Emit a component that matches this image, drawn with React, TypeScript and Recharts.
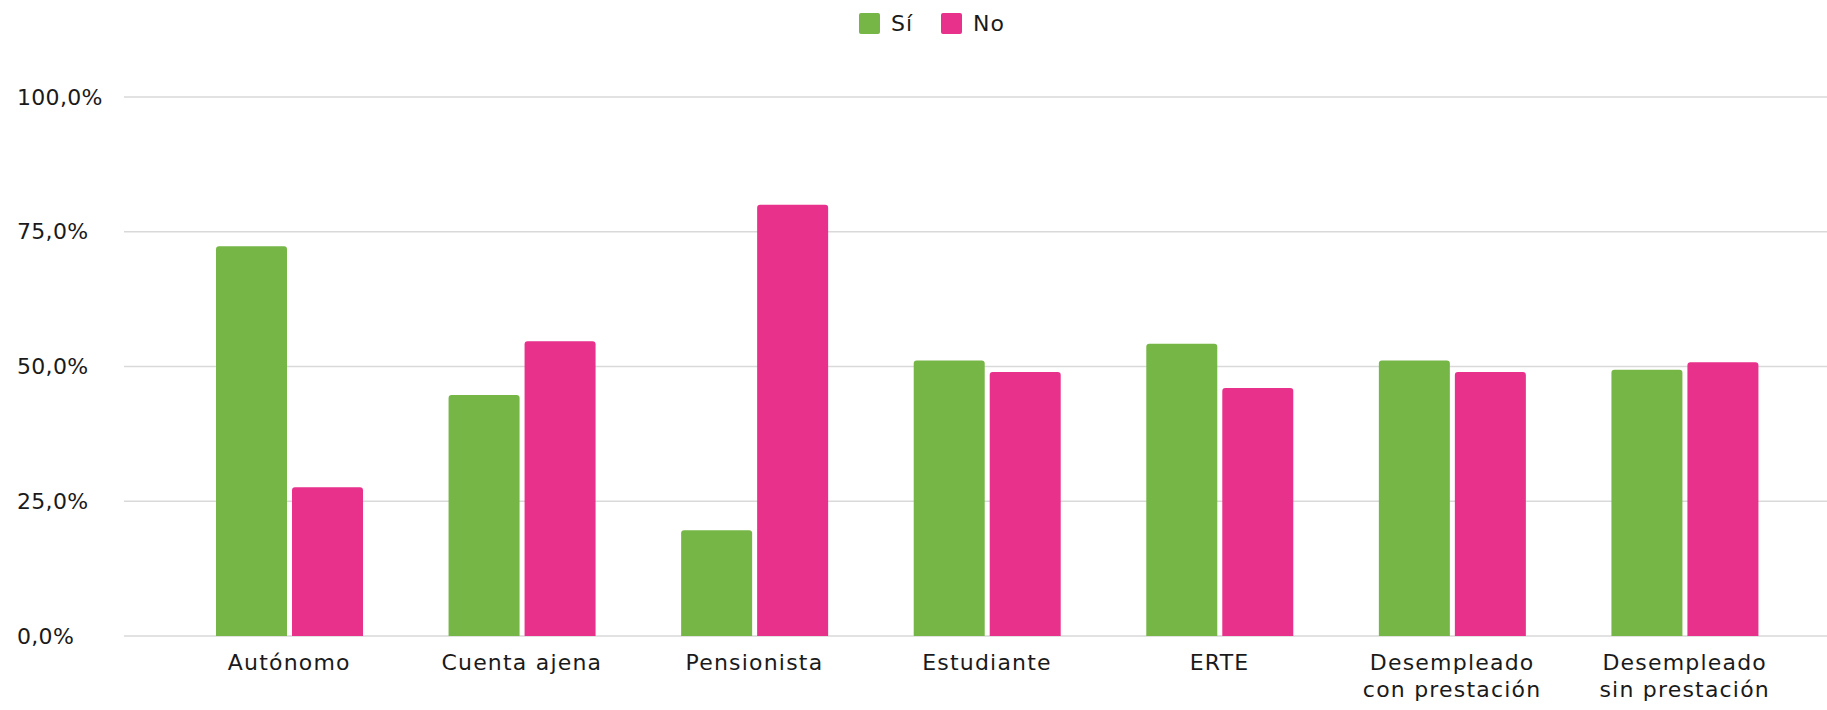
import React from 'react';
import { BarChart, Bar, XAxis, YAxis, CartesianGrid, Legend } from 'recharts';

if (typeof document !== 'undefined') document.body.style.margin = '0';

const categories = [
  'Autónomo',
  'Cuenta ajena',
  'Pensionista',
  'Estudiante',
  'ERTE',
  'Desempleado\ncon prestación',
  'Desempleado\nsin prestación',
];
const siValues = [72.3, 44.7, 19.6, 51.1, 54.2, 51.1, 49.4];
const noValues = [27.6, 54.7, 80.0, 49.0, 46.0, 49.0, 50.8];
const yTicks = [0, 25, 50, 75, 100];

const GREEN = '#76b646';
const PINK = '#e7318a';
const FONT = '"DejaVu Sans", sans-serif';

const data = categories.map((name, i) => ({ name, si: siValues[i], no: noValues[i] }));

const fmt = (v: number) => `${v.toFixed(1).replace('.', ',')}%`;

const YTick = ({ y, payload }: any) => (
  <text x={17} y={y} textAnchor="start" dominantBaseline="central" fontFamily={FONT} fontSize={22} letterSpacing={0.3} fill="#1a1a1a">
    {fmt(payload.value)}
  </text>
);

const XTick = ({ x, y, payload }: any) => {
  const lines = String(payload.value).split('\n');
  return (
    <text x={x} y={y} textAnchor="middle" fontFamily={FONT} fontSize={22} letterSpacing={1.2} fill="#1a1a1a">
      {lines.map((l, i) => (
        <tspan key={i} x={x} dy={i === 0 ? 26 : 27}>{l}</tspan>
      ))}
    </text>
  );
};

const LegendContent = () => (
  <div style={{ height: 40, position: 'relative', fontFamily: FONT, fontSize: 22, color: '#1a1a1a' }}>
    {[{ label: 'Sí', color: GREEN, x: 859 }, { label: 'No', color: PINK, x: 941 }].map(it => (
      <div key={it.label} style={{ position: 'absolute', left: it.x, top: 13, display: 'flex', alignItems: 'center' }}>
        <span style={{ width: 21, height: 21, background: it.color, borderRadius: 2, display: 'inline-block' }} />
        <span style={{ marginLeft: 11, lineHeight: '21px', letterSpacing: 1 }}>{it.label}</span>
      </div>
    ))}
  </div>
);

export default function App() {
  return (
    <div style={{ width: 1827, height: 710, background: '#fff' }}>
      <BarChart width={1827} height={710} data={data} margin={{ top: 57, right: 0, bottom: 0, left: 0 }} barGap={5}>
        <Legend verticalAlign="top" align="left" content={<LegendContent />} wrapperStyle={{ top: 0, left: 0, width: 1827 }} />
        <CartesianGrid vertical={false} stroke="#d9d9d9" strokeWidth={1.5} />
        <XAxis
          dataKey="name"
          axisLine={false}
          tickLine={false}
          height={74}
          interval={0}
          padding={{ left: 49, right: 26 }}
          tick={<XTick />}
        />
        <YAxis
          domain={[0, 100]}
          ticks={yTicks}
          width={124}
          axisLine={false}
          tickLine={false}
          tick={<YTick />}
        />
        <Bar dataKey="si" name="Sí" fill={GREEN} barSize={71} radius={[3, 3, 0, 0]} isAnimationActive={false} />
        <Bar dataKey="no" name="No" fill={PINK} barSize={71} radius={[3, 3, 0, 0]} isAnimationActive={false} />
      </BarChart>
    </div>
  );
}
